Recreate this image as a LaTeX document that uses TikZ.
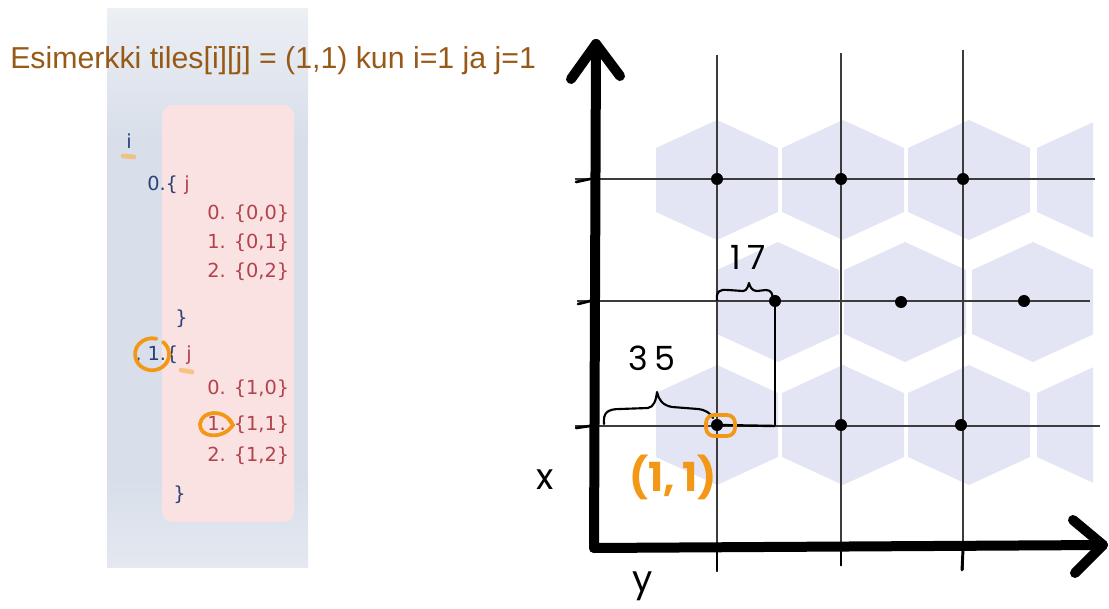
\documentclass[tikz,border=0pt]{standalone}
\usepackage{fontspec}
\setmainfont{Liberation Sans}
\newfontfamily\codefont{DejaVu Sans}
\newfontfamily\handfont{Poppins}
\usetikzlibrary{calc}
\definecolor{titlec}{RGB}{152,88,22}
\definecolor{codeblue}{RGB}{45,65,120}
\definecolor{codered}{RGB}{178,66,76}
\definecolor{orangec}{RGB}{242,152,22}
\definecolor{hexc}{RGB}{227,229,244}
\definecolor{panelc}{RGB}{216,223,234}
\definecolor{paneltop}{RGB}{236,239,244}
\definecolor{pinkc}{RGB}{250,226,226}
\definecolor{gridc}{RGB}{60,60,60}
\tikzset{
  codetxt/.style={inner sep=0pt, anchor=base west, font=\codefont\fontsize{14.5}{17}\selectfont},
  cb/.style={codetxt, text=codeblue},
  cr/.style={codetxt, text=codered},
  axisline/.style={line width=7.5pt, line cap=round, line join=round},
  gridline/.style={draw=gridc, line width=1.1pt},
  dotc/.style={circle, fill=black, inner sep=0pt, minimum size=9pt},
  hand/.style={draw=black, line width=1.6pt, line cap=round, line join=round},
  handtxt/.style={inner sep=0pt, font=\handfont\fontsize{25}{27}\selectfont},
  orangering/.style={draw=orangec, line width=2.8pt, line cap=round},
  hexfill/.style={fill=hexc}
}
\newcommand\hexat[2]{\fill[hexfill] (#1,#2) +(0,-60) -- +(61,-32) -- +(61,32) -- +(0,60) -- +(-61,32) -- +(-61,-32) -- cycle;}
\begin{document}
\begin{tikzpicture}[x=0.75pt,y=-0.75pt]
\useasboundingbox (0,0) rectangle (1109,609);
% left panel
\shade[top color=paneltop, bottom color=panelc] (107,9) rectangle (308,140);
\fill[panelc] (107,139) rectangle (308,480);
\shade[top color=panelc, bottom color=paneltop!60!panelc] (107,479) rectangle (308,567);
\fill[pinkc, rounded corners=8pt] (162,105) rectangle (294,522);
% title
\node[inner sep=0pt, anchor=base west, text=titlec, font=\fontsize{22.7}{26}\selectfont] (title) at (10,69) {Esimerkki tiles[i][j] = (1,1) kun i=1 ja j=1};
% code listing
\node[cb] (ii) at (126,149) {i};
\node[cb] (o0) at (147,191) {0.\{};
\node[cr] (j0) at (184,191) {j};
\node[cr] (a0) at (207,220) {0. \{0,0\}};
\node[cr] (a1) at (207,249) {1. \{0,1\}};
\node[cr] (a2) at (207,278) {2. \{0,2\}};
\node[cb] (c0) at (175,325) {\}};
\node[cb] (o1) at (135,360) {, 1.\{};
\node[cr] (j1) at (186,360) {j};
\node[cr] (b0) at (207,394) {0. \{1,0\}};
\node[cr] (b1) at (207,430) {1. \{1,1\}};
\node[cr] (b2) at (207,461) {2. \{1,2\}};
\node[cb] (c1) at (173,500) {\}};
% orange marks on the listing
\draw[orangec!70, line width=3.5pt, line cap=round, opacity=0.7] (123,156) -- (134,157);
\draw[orangec!70, line width=3.5pt, line cap=round, opacity=0.7] (181,370) -- (192,372);
\draw[orangering] (163,342) arc (-50:285:17 and 16);
\draw[orangering] (232,423) .. controls (224,409) and (202,410) .. (200,424) .. controls (199,438) and (223,440) .. (233,425) -- (227,417);
% hexagons
\begin{scope}
\clip (600,0) rectangle (1093,609);
\hexat{717}{180}\hexat{843}{180}\hexat{969}{180}\hexat{1098}{180}
\hexat{778}{302}\hexat{905}{302}\hexat{1033}{302}
\hexat{717}{425}\hexat{843}{425}\hexat{969}{425}\hexat{1098}{425}
\end{scope}
% grid coordinates
\coordinate (g1t) at (717,55); \coordinate (g1b) at (717,572);
\coordinate (g2t) at (841,53); \coordinate (g2b) at (841,566);
\coordinate (g3t) at (963,50); \coordinate (g3b) at (963,570);
\coordinate (h1l) at (575,179); \coordinate (h1r) at (1095,179);
\coordinate (h2l) at (577,301); \coordinate (h2r) at (1090,301);
\coordinate (h3l) at (575,426); \coordinate (h3r) at (1100,426);
\draw[gridline] (g1t) -- (g1b);
\draw[gridline] (g2t) -- (g2b);
\draw[gridline] (g3t) -- (g3b);
\draw[gridline] (h1l) -- (h1r);
\draw[gridline] (h2l) -- (h2r);
\draw[gridline] (h3l) -- (h3r);
% ticks (thicker below axis)
\draw[line width=2.2pt, line cap=round] (717,550) -- (717,570);
\draw[line width=2.2pt, line cap=round] (841,550) -- (841,565);
\draw[line width=2.2pt, line cap=round] (963,550) -- (962,570);
\draw[line width=2pt, line cap=round] (576,182) -- (590,179);
\draw[line width=2pt, line cap=round] (578,304) -- (590,301);
\draw[line width=2pt, line cap=round] (576,428) -- (590,426);
% axes
\coordinate (origin) at (594,548);
\coordinate (ytop) at (596,44);
\coordinate (xend) at (1103,545);
\draw[axisline] (origin) -- (ytop);
\draw[axisline] (origin) -- (xend);
\coordinate (ya1) at (571,79); \coordinate (ya2) at (620,76);
\coordinate (xa1) at (1073,520); \coordinate (xa2) at (1075,573);
\draw[axisline] (ya1) -- (ytop) -- (ya2);
\draw[axisline] (xa1) -- (xend) -- (xa2);
% dots
\node[dotc] (d11) at (717,179) {};
\node[dotc] (d12) at (841,179) {};
\node[dotc] (d13) at (963,179) {};
\node[dotc] (d21) at (775,301) {};
\node[dotc] (d22) at (901,302) {};
\node[dotc] (d23) at (1024,301) {};
\node[dotc] (d31) at (717,425) {};
\node[dotc] (d32) at (841,425) {};
\node[dotc] (d33) at (961,425) {};
% measure lines
\draw[line width=1.8pt] (d21.center) -- (775,426);
\draw[line width=1.8pt] (d31.center) -- (775,426);
% braces
\draw[hand] (717,300) .. controls (716,292) and (719,289) .. (728,290) -- (743,291) .. controls (747,291) and (748,286) .. (749,283) .. controls (750,287) and (752,291) .. (757,291) -- (766,290) .. controls (771,290) and (773,294) .. (773,300);
\draw[hand] (604,424) .. controls (603,413) and (607,409) .. (620,409) -- (648,408) .. controls (654,407) and (656,400) .. (657,392) .. controls (659,400) and (662,405) .. (672,407) -- (698,409) .. controls (706,410) and (710,413) .. (713,418);
\node[handtxt] (n17) at (748,257) {1\,7};
\node[handtxt] (n35) at (652,358) {3\,5};
% (1,1) marker
\draw[orangec, line width=2.8pt, rounded corners=6pt] (706,415) rectangle (735,436);
\node[inner sep=0pt, text=orangec, font=\handfont\bfseries\fontsize{30}{32}\selectfont] (lab11) at (673,477) {(1,\,1)};
% axis labels
\node[inner sep=0pt, font=\handfont\fontsize{27}{28}\selectfont] (xl) at (545,480) {x};
\node[inner sep=0pt, font=\handfont\fontsize{27}{28}\selectfont] (yl) at (643,586) {y};
\end{tikzpicture}
\end{document}
